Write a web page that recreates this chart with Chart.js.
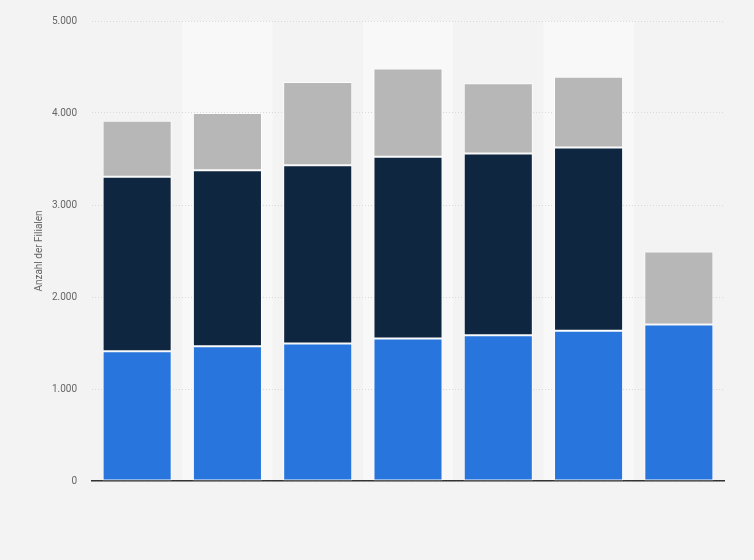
<!DOCTYPE html>
<html>
<head>
<meta charset="utf-8">
<script src="https://cdn.jsdelivr.net/npm/chart.js@4.4.1/dist/chart.umd.min.js"></script>
<style>
  html, body { margin: 0; padding: 0; background: #f3f3f3; }
  #wrap { width: 754px; height: 560px; position: relative; }
</style>
</head>
<body>
<div id="wrap"><canvas id="c" width="754" height="560"></canvas></div>
<script>
const categories = ['1', '2', '3', '4', '5', '6', '7'];
const seriesBlue = [1410, 1464, 1494, 1548, 1584, 1634, 1702];
const seriesNavy = [1898, 1913, 1937, 1977, 1977, 1992, 0];
const seriesGray = [607, 622, 907, 958, 763, 767, 793];
const yTicks = [0, 1000, 2000, 3000, 4000, 5000];
const yTitle = 'Anzahl der Filialen';

function fmt(v) {
  return String(v).replace(/\B(?=(\d{3})+(?!\d))/g, '.');
}

const bandPlugin = {
  id: 'bands',
  beforeDraw(chart) {
    const { ctx, chartArea, scales } = chart;
    const x = scales.x;
    const w = (chartArea.right - chartArea.left) / categories.length;
    ctx.save();
    ctx.fillStyle = '#f8f8f8';
    categories.forEach((c, i) => {
      if (i % 2 === 1) {
        const cx = x.getPixelForValue(i);
        ctx.fillRect(cx - w / 2, chartArea.top, w, chartArea.bottom - chartArea.top);
      }
    });
    ctx.restore();
  }
};

const common = { borderColor: 'rgba(255,255,255,0.75)', borderWidth: 1, borderSkipped: false };

new Chart(document.getElementById('c'), {
  type: 'bar',
  data: {
    labels: categories,
    datasets: [
      Object.assign({ label: 'A', data: seriesBlue, backgroundColor: '#2876dd' }, common),
      Object.assign({ label: 'B', data: seriesNavy, backgroundColor: '#0f2640' }, common),
      Object.assign({ label: 'C', data: seriesGray, backgroundColor: '#b7b7b7' }, common)
    ]
  },
  options: {
    responsive: false,
    animation: false,
    devicePixelRatio: 1,
    categoryPercentage: 0.765,
    barPercentage: 1,
    layout: { padding: { left: 0, right: 30, top: 20, bottom: 79 } },
    plugins: { legend: { display: false }, tooltip: { enabled: false } },
    scales: {
      x: {
        stacked: true,
        ticks: { display: false },
        grid: { display: false, drawTicks: false },
        border: { display: true, color: '#333333', width: 1.5 },
        afterFit(s) { s.height = 0; }
      },
      y: {
        stacked: true,
        min: 0,
        max: 5000,
        afterBuildTicks(s) { s.ticks = yTicks.map(v => ({ value: v })); },
        ticks: {
          padding: 15,
          color: '#666666',
          font: { family: 'Roboto, "Open Sans", sans-serif', size: 10 },
          callback: v => fmt(v)
        },
        grid: { color: '#d9d9d9', drawTicks: false, lineWidth: 1 },
        border: { display: false, dash: [1, 2] },
        title: {
          display: true,
          text: yTitle,
          color: '#666666',
          font: { family: 'Roboto, "Open Sans", sans-serif', size: 10 },
          padding: { top: 33, bottom: 0 }
        },
        afterFit(s) { s.width = 92; }
      }
    }
  },
  plugins: [bandPlugin]
});
</script>
</body>
</html>
